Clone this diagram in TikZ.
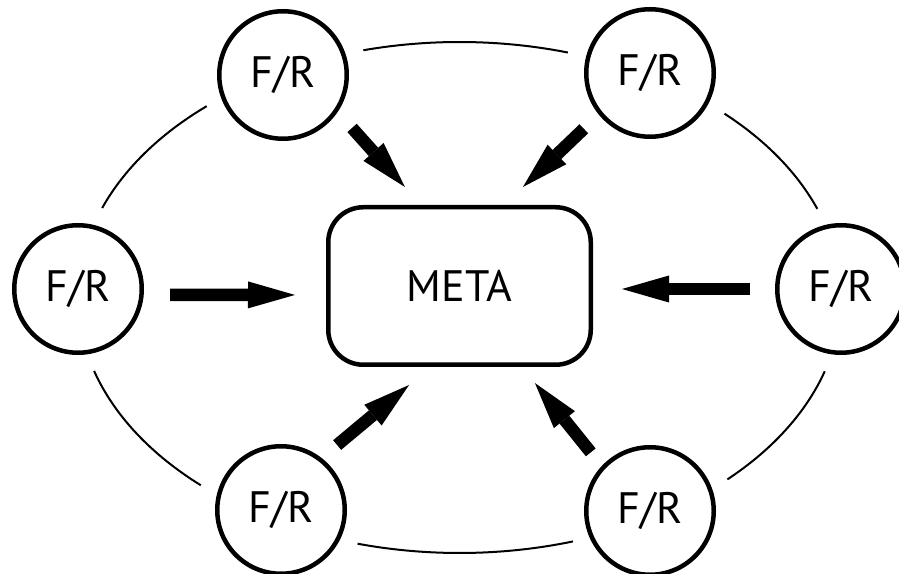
\documentclass[tikz,border=0pt]{standalone}
\usepackage{fontspec}
\setmainfont{PT Sans}
\usetikzlibrary{arrows.meta}
\newcommand{\ea}{381.5pt}
\newcommand{\eb}{255.5pt}
\tikzstyle{texte}=[font=\fontsize{44}{50}\selectfont]
\tikzstyle{cercle}=[texte,draw,circle,line width=4.5pt,minimum size=127.5pt,inner sep=0]
\tikzstyle{cadre}=[texte,draw,rectangle,rounded corners=35pt,line width=4.5pt,minimum width=262.5pt,minimum height=157.5pt]
\tikzstyle{trait}=[line width=2pt]
\tikzstyle{fleche}=[line width=12.5pt,-{Triangle[length=47pt,width=27pt,line width=0pt]}]
\begin{document}
\begin{tikzpicture}[x=1pt,y=1pt]
\useasboundingbox (0,0) rectangle (899,573);

%ellipse
\coordinate (O) at (459.5,275.5);
\foreach \a/\b in {73.5/104.6,131.5/159.5,196.7/227.3,254.5/287.3,314.6/343.2,20.3/46}
\draw[trait] (O) ++(\a:{\ea} and {\eb}) arc[start angle=\a,end angle=\b,x radius=\ea,y radius=\eb];

%noeuds
\node[cadre](meta) at (459.5,287) {META};
\node[cercle](G) at (78,284) {F/R};
\node[cercle](D) at (841,284) {F/R};
\node[cercle](HG) at (283,498) {F/R};
\node[cercle](HD) at (650,500) {F/R};
\node[cercle](BG) at (281,63) {F/R};
\node[cercle](BD) at (650,62) {F/R};

%fleches
\draw[fleche,shorten <=26.3pt,shorten >=31pt] (G.-5) -- ([yshift=-9pt]meta.west);
\draw[fleche,shorten <=25pt,shorten >=29pt] (D.west) -- ([yshift=-3pt]meta.east);
\draw[fleche,shorten <=21.5pt,shorten >=24.2pt] (HG.-34) -- ([xshift=-38.5pt]meta.north);
\draw[fleche,shorten <=20.6pt,shorten >=26.1pt] (HD.-141) -- ([xshift=44.6pt]meta.north);
\draw[fleche,shorten <=20.2pt,shorten >=28.1pt] (BG.52) -- ([xshift=-28.9pt]meta.south);
\draw[fleche,shorten <=17.5pt,shorten >=20.6pt] (BD.137) -- ([xshift=62.5pt]meta.south);
\end{tikzpicture}
\end{document}
